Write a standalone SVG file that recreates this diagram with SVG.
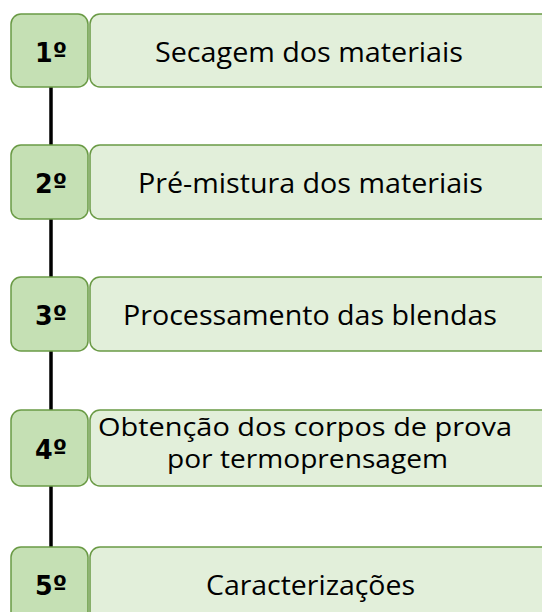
<svg xmlns="http://www.w3.org/2000/svg" width="542" height="612" viewBox="0 0 542 612">
<style>
.num{fill:#c5e0b4;stroke:#6a9a45;stroke-width:1.5}
.lbl{fill:#e2efda;stroke:#6a9a45;stroke-width:1.5}
.nt{font-family:"DejaVu Sans",sans-serif;font-weight:bold;font-size:26px;fill:#000;text-anchor:middle}
.lt{font-family:"Open Sans","Liberation Sans",sans-serif;font-size:28px;fill:#000;text-anchor:middle}
.l4{font-size:26px}
.ln{stroke:#000;stroke-width:3.5;fill:none}
</style>
<rect width="542" height="612" fill="#fff"/>
<g id="connectors">
<line class="ln" x1="51" y1="87" x2="51" y2="145"/>
<line class="ln" x1="51" y1="219" x2="51" y2="277"/>
<line class="ln" x1="51" y1="351" x2="51" y2="410"/>
<line class="ln" x1="51" y1="486" x2="51" y2="547"/>
</g>
<g id="step1">
<rect class="num" x="11" y="14" width="77" height="73" rx="10"/>
<rect class="lbl" x="90" y="14" width="470" height="73" rx="10"/>
<text class="nt" x="51" y="62" textLength="32" lengthAdjust="spacingAndGlyphs">1º</text>
<text class="lt" x="309" y="62" textLength="308" lengthAdjust="spacingAndGlyphs">Secagem dos materiais</text>
</g>
<g id="step2">
<rect class="num" x="11" y="145" width="77" height="74" rx="10"/>
<rect class="lbl" x="90" y="145" width="470" height="74" rx="10"/>
<text class="nt" x="51" y="193" textLength="32" lengthAdjust="spacingAndGlyphs">2º</text>
<text class="lt" x="310.5" y="193" textLength="345" lengthAdjust="spacingAndGlyphs">Pré-mistura dos materiais</text>
</g>
<g id="step3">
<rect class="num" x="11" y="277" width="77" height="74" rx="10"/>
<rect class="lbl" x="90" y="277" width="470" height="74" rx="10"/>
<text class="nt" x="51" y="325" textLength="32" lengthAdjust="spacingAndGlyphs">3º</text>
<text class="lt" x="310" y="325" textLength="374" lengthAdjust="spacingAndGlyphs">Processamento das blendas</text>
</g>
<g id="step4">
<rect class="num" x="11" y="410" width="77" height="76" rx="10"/>
<rect class="lbl" x="90" y="410" width="470" height="76" rx="10"/>
<text class="nt" x="51" y="459" textLength="32" lengthAdjust="spacingAndGlyphs">4º</text>
<text class="lt l4" x="305" y="436" textLength="414" lengthAdjust="spacingAndGlyphs">Obtenção dos corpos de prova</text>
<text class="lt l4" x="307.5" y="468" textLength="281" lengthAdjust="spacingAndGlyphs">por termoprensagem</text>
</g>
<g id="step5">
<rect class="num" x="11" y="547" width="77" height="80" rx="10"/>
<rect class="lbl" x="90" y="547" width="470" height="80" rx="10"/>
<text class="nt" x="51" y="595" textLength="32" lengthAdjust="spacingAndGlyphs">5º</text>
<text class="lt" x="310.5" y="595" textLength="209" lengthAdjust="spacingAndGlyphs">Caracterizações</text>
</g>
</svg>
